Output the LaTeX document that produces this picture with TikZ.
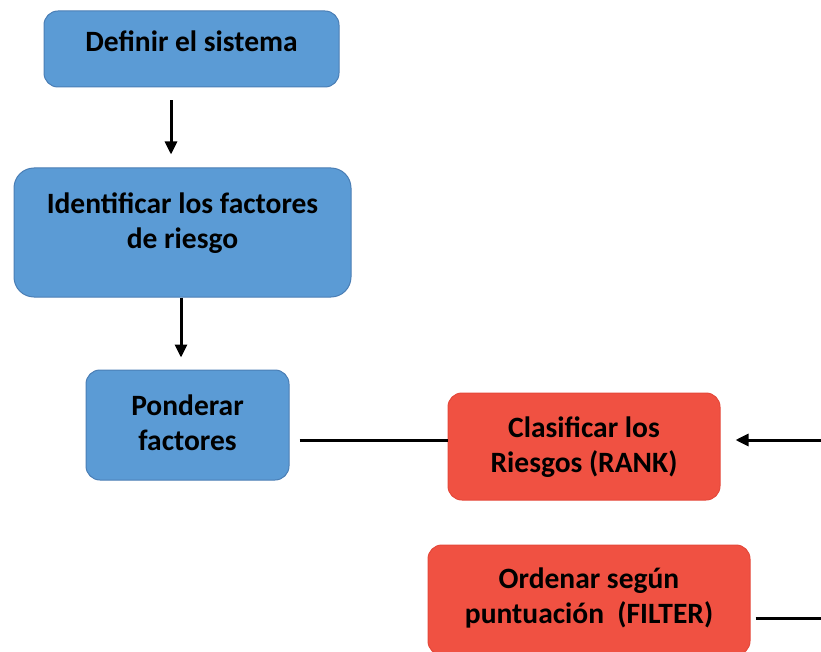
\documentclass[tikz,border=0pt]{standalone}
\usepackage{fontspec}
\setmainfont{Carlito}
\usetikzlibrary{arrows.meta}
\definecolor{bluebox}{HTML}{5B9BD5}
\definecolor{blueedge}{HTML}{4A7EB5}
\definecolor{redbox}{HTML}{F05142}
\definecolor{rededge}{HTML}{E5483A}
\tikzset{
  bluestep/.style={draw=blueedge, line width=1pt, fill=bluebox, rounded corners=14pt},
  redstep/.style={draw=rededge, line width=1pt, fill=redbox, rounded corners=14pt},
  lbl/.style={font=\fontsize{29.5}{35.5}\selectfont\bfseries, align=center, text=black, inner sep=0pt},
  conn/.style={line width=3pt, black},
  arr/.style={conn, -{Triangle[length=13pt,width=12pt]}}
}
\begin{document}
\begin{tikzpicture}[x=1pt,y=-1pt]
\useasboundingbox (0,0) rectangle (821,652);
% boxes
\node[bluestep, minimum width=295pt, minimum height=76pt] (b1) at (191.5,49) {};
\node[lbl] (t1) at (191.5,41) {Definir el sistema};
\node[bluestep, rounded corners=20pt, minimum width=337pt, minimum height=129pt] (b2) at (182.5,232.5) {};
\node[lbl] (t2) at (182.5,223) {Identificar los factores\\de riesgo};
\node[bluestep, minimum width=203pt, minimum height=110pt] (b3) at (187.5,425) {};
\node[lbl] (t3) at (187.5,423) {Ponderar\\factores};
\node[redstep, minimum width=272pt, minimum height=107pt] (b4) at (584,446.5) {};
\node[lbl] (t4) at (584,447) {Clasificar los\\Riesgos (RANK)};
\node[redstep, minimum width=322pt, minimum height=110pt] (b5) at (589,600) {};
\node[lbl] (t5) at (589,598) {Ordenar según\\puntuación\ \ (FILTER)};
% free ends at right edge
\coordinate (r1) at (821,440);
\coordinate (r2) at (821,618);
% connectors
\draw[arr, shorten <=13pt, shorten >=13pt] (b1.south -| 171,0) -- (b2.north -| 171,0);
\draw[arr, shorten >=12pt] (b2.south -| 181,0) -- (b3.north -| 181,0);
\draw[conn, shorten <=10pt] (b3.east |- 0,440) -- (b4.west |- 0,440);
\draw[arr, shorten >=15pt] (r1) -- (b4.east |- r1);
\draw[conn, shorten <=5pt] (b5.east |- r2) -- (r2);
\end{tikzpicture}
\end{document}
